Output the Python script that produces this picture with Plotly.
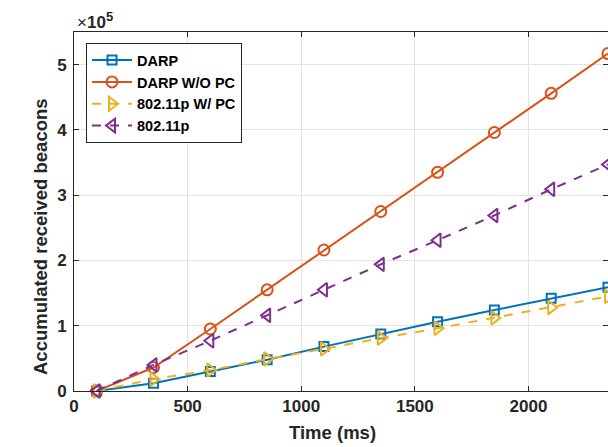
import plotly.graph_objects as go

time_ms = [100, 350, 600, 850, 1100, 1350, 1600, 1850, 2100, 2350]
darp = [0.0, 0.12, 0.30, 0.48, 0.68, 0.875, 1.06, 1.24, 1.42, 1.59]
darp_wo_pc = [0.0, 0.36, 0.95, 1.55, 2.16, 2.75, 3.35, 3.96, 4.56, 5.17]
p80211_w_pc = [0.0, 0.18, 0.32, 0.49, 0.645, 0.81, 0.96, 1.12, 1.28, 1.45]
p80211 = [0.0, 0.40, 0.77, 1.16, 1.55, 1.94, 2.31, 2.69, 3.09, 3.47]

series = [
    ("DARP", darp, "#0072BD", "square-open", "solid", 9),
    ("DARP W/O PC", darp_wo_pc, "#D95319", "circle-open", "solid", 11),
    ("802.11p W/ PC", p80211_w_pc, "#EDB120", "triangle-right-open", "dash", 12),
    ("802.11p", p80211, "#7E2F8E", "triangle-left-open", "dash", 12),
]

fig = go.Figure()
for name, vals, color, sym, dash, msize in series:
    fig.add_trace(go.Scatter(
        x=time_ms, y=[v * 1e5 for v in vals], name=name, mode="lines+markers",
        line=dict(color=color, width=2, dash=dash),
        marker=dict(symbol=sym, size=msize, color=color, line=dict(color=color, width=2)),
        cliponaxis=False,
    ))

font_family = "Liberation Sans, Arial, sans-serif"
axis_common = dict(
    showline=True, linecolor="#262626", linewidth=1, mirror="ticks",
    ticks="inside", ticklen=5, tickcolor="#262626",
    showgrid=True, gridcolor="#e3e3e3", gridwidth=1, zeroline=False,
    tickfont=dict(family=font_family, size=17, color="#262626", weight="bold"),
)

def px_x(p):
    return (p - 74) / 534

def px_y(p):
    return (391 - p) / 359

fig.update_layout(
    width=608, height=447,
    margin=dict(l=74, r=0, t=32, b=56),
    paper_bgcolor="white", plot_bgcolor="white",
    showlegend=True,
    legend=dict(
        x=0.0225, y=0.969, xanchor="left", yanchor="top",
        bgcolor="white", bordercolor="#262626", borderwidth=1,
        font=dict(family=font_family, size=14.5, color="#000000", weight="bold"),
        tracegroupgap=0, itemwidth=40,
    ),
    xaxis=dict(range=[0, 2350], tickvals=[0, 500, 1000, 1500, 2000],
               ticktext=["0", "500", "1000", "1500", "2000"], **axis_common),
    yaxis=dict(range=[0, 5.5e5], tickvals=[0, 1e5, 2e5, 3e5, 4e5, 5e5],
               ticktext=["0", "1", "2", "3", "4", "5"], ticklabelstandoff=3, **axis_common),
    annotations=[
        dict(text="Time (ms)", xref="paper", yref="paper", x=px_x(332), y=px_y(432),
             xanchor="center", yanchor="middle", showarrow=False,
             font=dict(family=font_family, size=18.5, color="#262626", weight="bold")),
        dict(text="Accumulated received beacons", xref="paper", yref="paper",
             x=px_x(40), y=px_y(237), xanchor="center", yanchor="middle", textangle=-90,
             showarrow=False,
             font=dict(family=font_family, size=18.5, color="#262626", weight="bold")),
        dict(text="×<b>10</b>", xref="paper", yref="paper", x=px_x(75), y=px_y(23),
             xanchor="left", yanchor="middle", showarrow=False,
             font=dict(family=font_family, size=17, color="#262626")),
        dict(text="5", xref="paper", yref="paper", x=px_x(109.5), y=px_y(16),
             xanchor="center", yanchor="middle", showarrow=False,
             font=dict(family=font_family, size=13, color="#262626", weight="bold")),
    ],
)

fig.write_html("out.html")
